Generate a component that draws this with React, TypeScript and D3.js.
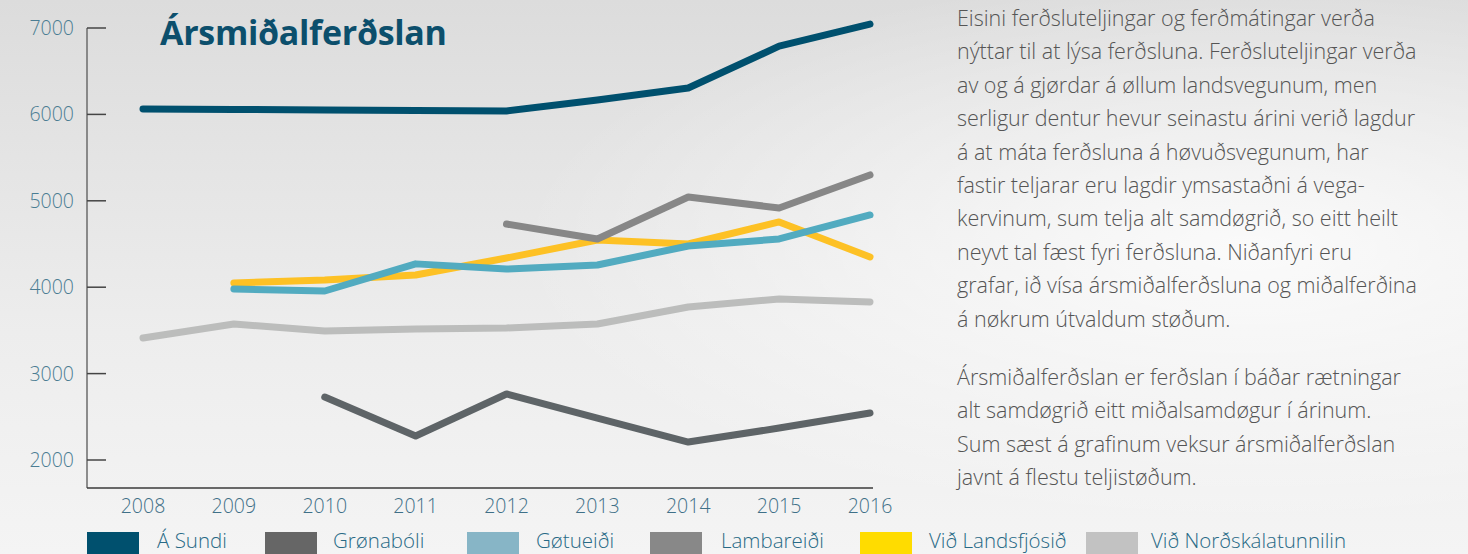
import React, { useEffect, useRef } from 'react';
import * as d3 from 'd3';

const years = [2008, 2009, 2010, 2011, 2012, 2013, 2014, 2015, 2016];
const yTicks = [2000, 3000, 4000, 5000, 6000, 7000];

// null = no count that year
const aSundi = [6062, 6057, 6052, 6046, 6040, 6167, 6305, 6790, 7046];
const gronaboli = [null, null, 2729, 2278, 2764, 2486, 2208, 2370, 2544];
const gotueidi = [null, 3979, 3956, 4270, 4210, 4257, 4477, 4558, 4836];
const lambareidi = [null, null, null, null, 4731, 4558, 5044, 4917, 5299];
const landsfjosid = [null, 4049, 4083, 4141, 4338, 4546, 4500, 4755, 4350];
const nordskala = [3412, 3574, 3493, 3516, 3528, 3574, 3771, 3863, 3829];

const seriesNames = ['Á Sundi', 'Grønabóli', 'Gøtueiði', 'Lambareiði', 'Við Landsfjósið', 'Við Norðskálatunnilin'];
const lineColors = ['#00506e', '#5e6467', '#52abc0', '#878787', '#fdc125', '#bcbdbc'];
const legendColors = ['#00506e', '#666666', '#87b5c6', '#888888', '#ffdc00', '#c2c2c2'];
const legendX = [87, 265, 467, 650, 860, 1086];
const legendLabelX = [157, 333, 536, 721, 929, 1151];
// draw order: light first, dark last
const drawOrder = [5, 1, 4, 2, 3, 0];

const paragraph1 = [
  'Eisini ferðsluteljingar og ferðmátingar verða',
  'nýttar til at lýsa ferðsluna. Ferðsluteljingar verða',
  'av og á gjørdar á øllum landsvegunum, men',
  'serligur dentur hevur seinastu árini verið lagdur',
  'á at máta ferðsluna á høvuðsvegunum, har',
  'fastir teljarar eru lagdir ymsastaðni á vega-',
  'kervinum, sum telja alt samdøgrið, so eitt heilt',
  'neyvt tal fæst fyri ferðsluna. Niðanfyri eru',
  'grafar, ið vísa ársmiðalferðsluna og miðalferðina',
  'á nøkrum útvaldum støðum.',
];
const paragraph2 = [
  'Ársmiðalferðslan er ferðslan í báðar rætningar',
  'alt samdøgrið eitt miðalsamdøgur í árinum.',
  'Sum sæst á grafinum veksur ársmiðalferðslan',
  'javnt á flestu teljistøðum.',
];

const W = 1468;
const H = 554;

export default function App() {
  const svgRef = useRef<SVGSVGElement>(null);

  useEffect(() => {
    if (!svgRef.current) return;
    document.body.style.margin = '0';
    const svg = d3.select(svgRef.current);
    svg.selectAll('*').remove();

    const font = "'Open Sans', Roboto, sans-serif";

    const defs = svg.append('defs');
    const grad = defs.append('linearGradient').attr('id', 'bg').attr('x1', 0).attr('y1', 0).attr('x2', 0).attr('y2', 1);
    grad.append('stop').attr('offset', '0%').attr('stop-color', '#dcdcdc');
    grad.append('stop').attr('offset', '60%').attr('stop-color', '#ededed');
    grad.append('stop').attr('offset', '100%').attr('stop-color', '#f4f4f4');
    const glow = defs.append('radialGradient').attr('id', 'glow').attr('cx', 0.85).attr('cy', 0.45).attr('r', 0.5);
    glow.append('stop').attr('offset', '0%').attr('stop-color', '#ffffff').attr('stop-opacity', 0.8);
    glow.append('stop').attr('offset', '100%').attr('stop-color', '#ffffff').attr('stop-opacity', 0);

    svg.append('rect').attr('width', W).attr('height', H).attr('fill', 'url(#bg)');
    svg.append('rect').attr('width', W).attr('height', H).attr('fill', 'url(#glow)');

    const x = d3.scalePoint<number>().domain(years).range([143, 870]);
    const y = d3.scaleLinear().domain([2000, 7000]).range([460, 28]);

    const axisLeft = 87;
    const axisBottom = 488;

    // axes
    svg.append('line')
      .attr('x1', axisLeft).attr('x2', axisLeft)
      .attr('y1', y(7000)).attr('y2', axisBottom)
      .attr('stroke', '#6b6b6b').attr('stroke-width', 1.5);
    svg.append('line')
      .attr('x1', axisLeft).attr('x2', 873)
      .attr('y1', axisBottom).attr('y2', axisBottom)
      .attr('stroke', '#3a3a3a').attr('stroke-width', 1.5);

    const yAxis = svg.append('g');
    yAxis.selectAll('line').data(yTicks).enter().append('line')
      .attr('x1', axisLeft).attr('x2', 106)
      .attr('y1', d => y(d)).attr('y2', d => y(d))
      .attr('stroke', '#444').attr('stroke-width', 1.5);
    yAxis.selectAll('text').data(yTicks).enter().append('text')
      .attr('x', 74).attr('y', d => y(d) + 7)
      .attr('text-anchor', 'end')
      .attr('font-family', font).attr('font-size', 19.5).attr('font-weight', 300)
      .attr('fill', '#4b7d93')
      .text(d => d);

    svg.append('g').selectAll('text').data(years).enter().append('text')
      .attr('x', d => x(d)!).attr('y', 513)
      .attr('text-anchor', 'middle')
      .attr('font-family', font).attr('font-size', 19.5).attr('font-weight', 300)
      .attr('fill', '#3f7088')
      .text(d => d);

    // title
    svg.append('text')
      .attr('x', 160).attr('y', 45)
      .attr('font-family', font).attr('font-size', 34).attr('font-weight', 700)
      .attr('fill', '#0c4f6c')
      .attr('letter-spacing', -0.3)
      .text('Ársmiðalferðslan');

    // lines
    const allSeries = [aSundi, gronaboli, gotueidi, lambareidi, landsfjosid, nordskala];
    const line = d3.line<number | null>()
      .defined(d => d !== null)
      .x((_, i) => x(years[i])!)
      .y(d => y(d as number));

    drawOrder.forEach(i => {
      svg.append('path')
        .datum(allSeries[i])
        .attr('d', line)
        .attr('fill', 'none')
        .attr('stroke', lineColors[i])
        .attr('stroke-width', 7)
        .attr('stroke-linecap', 'round')
        .attr('stroke-linejoin', 'round');
    });

    // legend
    const leg = svg.append('g');
    seriesNames.forEach((name, i) => {
      leg.append('rect')
        .attr('x', legendX[i]).attr('y', 532)
        .attr('width', 52).attr('height', 22)
        .attr('fill', legendColors[i]);
      leg.append('text')
        .attr('x', legendLabelX[i]).attr('y', 548)
        .attr('font-family', font).attr('font-size', 20.5).attr('font-weight', 300)
        .attr('fill', '#286a86')
        .text(name);
    });

    // paragraph text
    const body = svg.append('g')
      .attr('font-family', font).attr('font-size', 21.5)
      .attr('font-weight', 300)
      .attr('fill', '#555555');
    paragraph1.forEach((t, i) => {
      body.append('text').attr('x', 957).attr('y', 26 + i * 33.4).text(t);
    });
    paragraph2.forEach((t, i) => {
      body.append('text').attr('x', 957).attr('y', 385 + i * 33.4).text(t);
    });
  }, []);

  return <svg ref={svgRef} width={W} height={H} style={{ display: 'block' }} />;
}
